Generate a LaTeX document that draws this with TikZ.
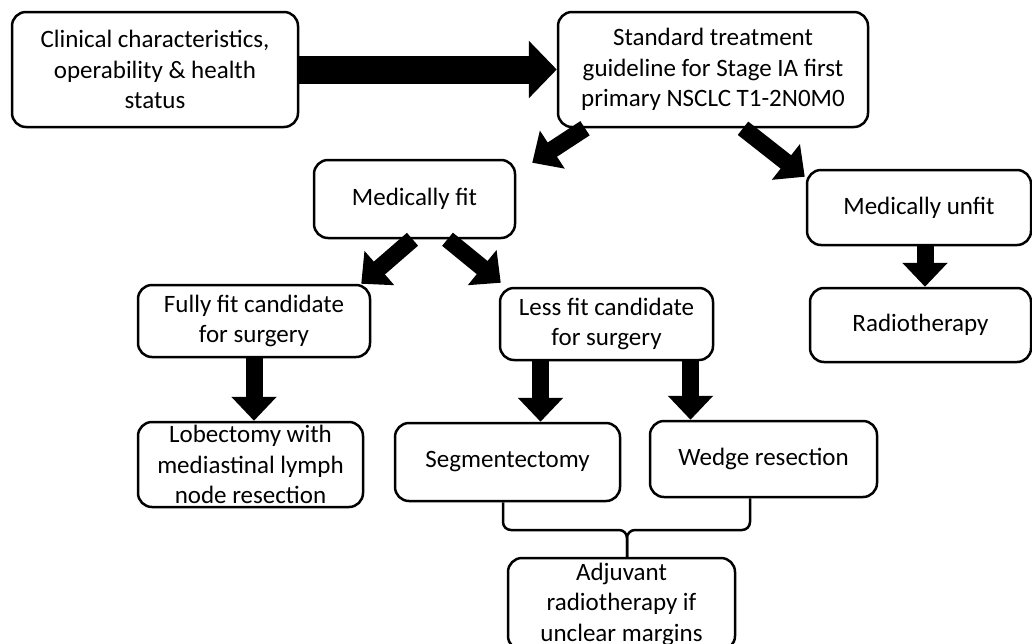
\documentclass[tikz,border=0pt]{standalone}
\usepackage{fontspec}
\setmainfont{Carlito}
\usetikzlibrary{arrows.meta}
\begin{document}
\begin{tikzpicture}[x=1pt,y=-1pt,
  box/.style={draw,line width=2.5pt,rounded corners=14pt,fill=white,align=center,inner sep=0pt,font=\fontsize{25}{30.5}\selectfont},
  bigarrow/.style={line width=28pt,-{Triangle[length=28pt,width=56pt]}},
  fatarrow/.style={line width=17pt,-{Triangle[length=24pt,width=44pt]}}]
\useasboundingbox (0,0) rectangle (1032,643);
\node at (155,69.5) [box,minimum width=286pt,minimum height=115pt] (clin) {Clinical characteristics,\\operability \& health\\status};
\node at (713,69.5) [box,minimum width=310pt,minimum height=115pt] (std) {Standard treatment\\guideline for Stage IA first\\primary NSCLC T1-2N0M0};
\node at (414.5,199) [box,minimum width=201pt,minimum height=78pt] (medfit) {Medically fit};
\node at (919,207.5) [box,minimum width=224pt,minimum height=75pt] (unfit) {Medically unfit};
\node at (254,321) [box,minimum width=232pt,minimum height=72pt] (fully) {Fully fit candidate\\for surgery};
\node at (606.5,324) [box,minimum width=213pt,minimum height=72pt] (less) {Less fit candidate\\for surgery};
\node at (920.5,325) [box,minimum width=221pt,minimum height=74pt] (radio) {Radiotherapy};
\node at (250.5,464.5) [box,minimum width=225pt,minimum height=85pt] (lobe) {Lobectomy with\\mediastinal lymph\\node resection};
\node at (507.5,462) [box,minimum width=225pt,minimum height=78pt] (segm) {Segmentectomy};
\node at (763.5,459) [box,minimum width=227pt,minimum height=76pt] (wedge) {Wedge resection};
\node at (621.5,604) [box,minimum width=227pt,minimum height=92pt] (adj) {Adjuvant\\radiotherapy if\\unclear margins};
\draw[bigarrow] (clin.east) -- (std.west);
\draw[fatarrow] ([xshift=-128pt]std.south) -- ([xshift=16pt,yshift=-4pt]medfit.north east);
\draw[fatarrow] ([xshift=30pt]std.south) -- ([xshift=-1pt,yshift=-8pt]unfit.north west);
\draw[fatarrow] ([xshift=-2pt]medfit.south) -- ([xshift=-10pt]fully.north east);
\draw[fatarrow] ([xshift=33pt]medfit.south) -- ([xshift=2pt,yshift=4pt]less.north west);
\draw[fatarrow] ([xshift=6pt]unfit.south) -- ([xshift=6pt]unfit.south |- radio.north);
\draw[fatarrow] (fully.south) -- (fully.south |- lobe.north);
\draw[fatarrow] ([xshift=-66pt]less.south) -- ([xshift=-66pt]less.south |- segm.north);
\draw[fatarrow] ([xshift=84pt]less.south) -- ([xshift=84pt]less.south |- wedge.north);
% brace joining the two resections
\coordinate (jl) at (503,530);
\coordinate (jm) at (627,530);
\coordinate (jr) at (750,530);
\draw[line width=2.5pt,rounded corners=8pt] (segm.south -| jl) -- (jl) -- (jm) -- (adj.north -| jm);
\draw[line width=2.5pt,rounded corners=8pt] (wedge.south -| jr) -- (jr) -- (jm) -- (adj.north -| jm);
\end{tikzpicture}
\end{document}
